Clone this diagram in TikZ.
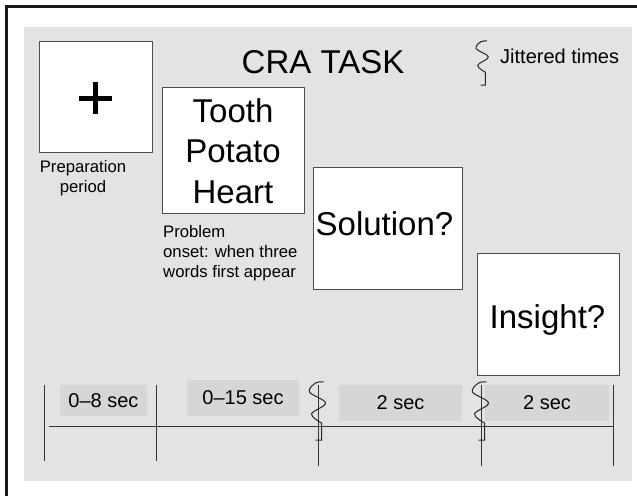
\documentclass[tikz,border=0pt]{standalone}
\usepackage{fontspec}
\setmainfont{Liberation Sans}
\definecolor{bggray}{HTML}{E3E3E3}
\definecolor{durgray}{HTML}{D6D6D6}
\tikzset{
  panel/.style={draw=black!70, line width=0.9pt, fill=white, inner sep=0pt},
  durbox/.style={fill=durgray, inner sep=0pt, font=\fontsize{20}{24}\selectfont},
  tline/.style={draw=black!80, line width=1pt},
  smalltxt/.style={font=\fontsize{16.7}{20}\selectfont, inner sep=0pt},
  bigtxt/.style={font=\fontsize{33}{40.5}\selectfont, inner sep=0pt},
  squig/.pic={\draw[black!85, line width=1pt] plot[smooth, tension=0.6] coordinates {(5,0) (-3,1) (-9,10) (7,21) (-7,32) (3,41)} -- (3,58) -- (-3,58);}
}
\begin{document}
\begin{tikzpicture}[x=1pt,y=-1pt]
\useasboundingbox (0,0) rectangle (637,496);
\fill[bggray] (24,27) rectangle (632,481);
\draw[line width=2.7pt, black!90] (6.3,496) -- (6.3,6.3) -- (637,6.3);

% stimulus panels
\node[panel, minimum width=113, minimum height=111] (fix) at (95.5,96.5) {};
\draw[line width=5pt] (79,98) -- (112,98);
\draw[line width=5pt] (95.5,82) -- (95.5,114);
\node[panel, minimum width=142, minimum height=126] (words) at (233,150) {};
\node[panel, minimum width=149, minimum height=122] (sol) at (387.5,228) {};
\node[panel, minimum width=142, minimum height=122] (ins) at (548,314) {};

% texts
\node[bigtxt, anchor=base] (title) at (323,73) {CRA TASK};
\node[bigtxt, anchor=base, align=center] (wordtxt) at (233,203) {Tooth\\Potato\\Heart};
\node[bigtxt, anchor=base] (soltxt) at (384.5,235) {Solution?};
\node[bigtxt, anchor=base] (instxt) at (547.5,328) {Insight?};
\node[smalltxt, anchor=base, align=center] (prep) at (83,192) {Preparation\\period};
\node[smalltxt, anchor=base west, align=left] (prob) at (163,277) {Problem\\onset: when three\\words first appear};
\node[font=\fontsize{20}{24}\selectfont, inner sep=0pt, anchor=base west] (legend) at (500,63) {Jittered times};
\pic[scale=0.76] at (483,41) {squig};

% timeline
\coordinate (t0a) at (44,385); \coordinate (t0b) at (44,461);
\coordinate (t1a) at (156,385); \coordinate (t1b) at (156,461);
\coordinate (t2a) at (318.5,385); \coordinate (t2b) at (318.5,466);
\coordinate (t3a) at (481.5,385); \coordinate (t3b) at (481.5,466);
\coordinate (t4a) at (613,385); \coordinate (t4b) at (613,466);
\coordinate (ax0) at (49,426); \coordinate (ax1) at (613,426);
\node[durbox, minimum width=87, minimum height=31] (d1) at (103.5,400.5) {0–8 sec};
\node[durbox, minimum width=112, minimum height=36] (d2) at (243,398) {0–15 sec};
\node[durbox, minimum width=123, minimum height=36] (d3) at (400.5,403) {2 sec};
\node[durbox, minimum width=124, minimum height=36] (d4) at (547,403) {2 sec};
\draw[tline] (ax0) -- (ax1);
\foreach \i in {0,...,4} {\draw[tline] (t\i a) -- (t\i b);}
\pic at (318.5,382) {squig};
\pic at (481.5,382) {squig};
\end{tikzpicture}
\end{document}
